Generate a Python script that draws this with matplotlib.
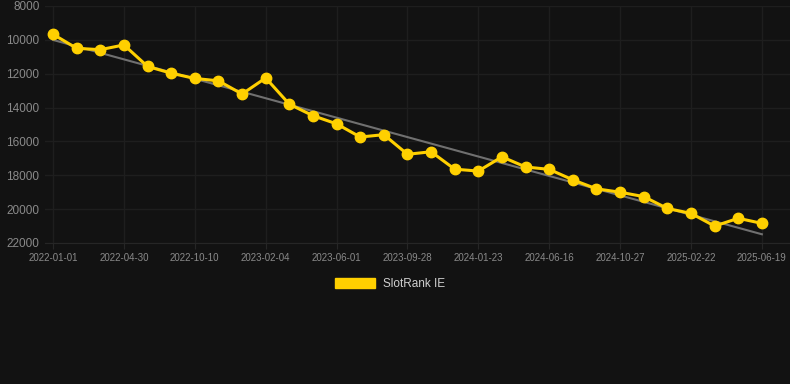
import numpy as np
import matplotlib.pyplot as plt
from matplotlib.patches import Patch

# rank values, one per sample (evenly spaced on the x axis)
ranks = [9670, 10500, 10580, 10300, 11570, 11970, 12280, 12420, 13200, 12250,
         13800, 14480, 14960, 15740, 15600, 16760, 16610, 17640, 17750, 16910,
         17510, 17650, 18270, 18800, 19000, 19260, 19960, 20250, 21000, 20540,
         20840]
tick_labels = ["2022-01-01", "2022-04-30", "2022-10-10", "2023-02-04", "2023-06-01",
               "2023-09-28", "2024-01-23", "2024-06-16", "2024-10-27", "2025-02-22",
               "2025-06-19"]
y_ticks = [8000, 10000, 12000, 14000, 16000, 18000, 20000, 22000]
series_name = "SlotRank IE"

BG = "#121212"
YELLOW = "#FFD000"

plt.rcParams["font.family"] = ["Liberation Sans", "DejaVu Sans"]

fig = plt.figure(figsize=(7.9, 3.84), dpi=100, facecolor=BG)
ax = fig.add_axes([45 / 790, 1 - 243 / 384, 1 - 45 / 790, 237 / 384])
ax.set_facecolor(BG)

x = np.arange(len(ranks))

# linear trend through the data
slope, intercept = np.polyfit(x, ranks, 1)
ax.plot(x, slope * x + intercept, color="#707070", linewidth=1.5, zorder=2)

ax.plot(x, ranks, color=YELLOW, linewidth=2.2, marker="o", markersize=7.5,
        zorder=3)

ax.set_ylim(22000, 8000)
ax.set_yticks(y_ticks)
ax.set_yticklabels([str(v) for v in y_ticks])
ax.set_xlim(-0.34, 31.19)
ax.set_xticks(x[::3])
ax.set_xticklabels(tick_labels)

ax.grid(True, color="#1e1e1e", linewidth=1)
ax.set_axisbelow(True)
for side in ["top", "right", "left"]:
    ax.spines[side].set_visible(False)
ax.spines["bottom"].set_color("#262626")

ax.tick_params(axis="y", length=0, pad=4, labelsize=8.5, labelcolor="#8a8a8a")
ax.tick_params(axis="x", length=4, color="#262626", pad=3, labelsize=7,
               labelcolor="#8a8a8a")

handle = Patch(facecolor=YELLOW, edgecolor=YELLOW)
fig.legend([handle], [series_name], loc="center", bbox_to_anchor=(390 / 790, 1 - 284 / 384),
           frameon=False, fontsize=8.5, labelcolor="#d0d0d0",
           handlelength=3.4, handleheight=0.85, handletextpad=0.6)

fig.savefig("out.png", dpi=100, facecolor=BG)
